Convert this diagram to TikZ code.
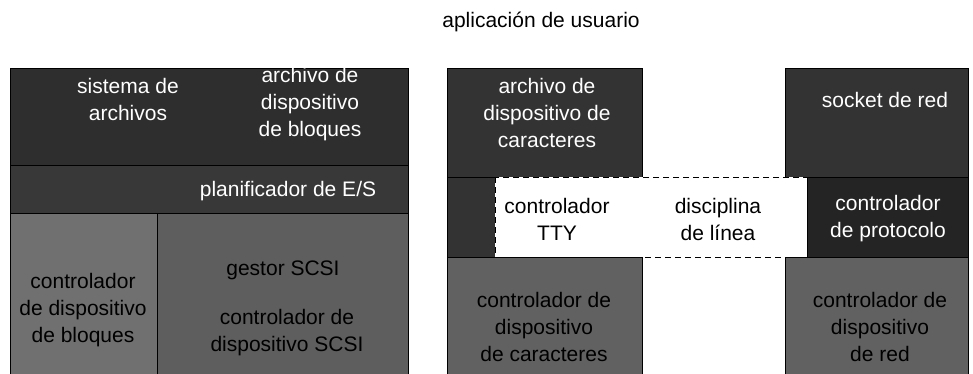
\documentclass[tikz,border=0pt]{standalone}
\usepackage{fontspec}
\setmainfont{Liberation Sans}
\begin{document}
\begin{tikzpicture}[x=1pt,y=-1pt,
  lbl/.style={font=\fontsize{21}{27}\selectfont, align=center, inner sep=0pt},
  lighttxt/.style={lbl, text=white},
  darktxt/.style={lbl, text=black},
  region/.style={draw=black, line width=0.8pt},
  ttybox/.style={draw=black, fill=white, dashed, line width=0.9pt, dash pattern=on 6pt off 4pt}]
\useasboundingbox (0,0) rectangle (973,374);
% left column
\filldraw[region, fill=black!82] (10,68) rectangle (408,165);
\filldraw[region, fill=black!78] (10,165) rectangle (408,213);
\filldraw[region, fill=black!56] (10,213) rectangle (157,374);
\filldraw[region, fill=black!63] (157,213) rectangle (408,374);
% middle column
\filldraw[region, fill=black!80] (447,68) rectangle (642,177);
\filldraw[region, fill=black!80] (447,177) rectangle (495,257);
\filldraw[region, fill=black!62] (447,257) rectangle (642,374);
% right column
\filldraw[region, fill=black!80] (785,68) rectangle (968,177);
\filldraw[region, fill=black!62] (785,257) rectangle (968,374);
% tty / line discipline box
\path[ttybox] (495,177) rectangle (807,257);
\filldraw[region, fill=black!86] (807,177) rectangle (968,257);
% texts
\node[darktxt] (app) at (541,22) {aplicación de usuario};
\node[lighttxt] (sa) at (128,99) {sistema de\\archivos};
\node[lighttxt] (adb) at (310,104) {archivo de\\dispositivo\\de bloques};
\node[lighttxt] (plan) at (288,191) {planificador de E/S};
\node[darktxt] (cdb) at (83,310) {controlador\\de dispositivo\\de bloques};
\node[darktxt] (gscsi) at (283,270) {gestor SCSI};
\node[darktxt] (cscsi) at (287,333) {controlador de\\dispositivo SCSI};
\node[lighttxt] (adc) at (547,113) {archivo de\\dispositivo de\\caracteres};
\node[darktxt] (ctty) at (557,219) {controlador\\TTY};
\node[darktxt] (dl) at (718,219) {disciplina\\de línea};
\node[darktxt] (cdc) at (544,327) {controlador de\\dispositivo\\de caracteres};
\node[lighttxt] (sock) at (885,100) {socket de red};
\node[lighttxt] (cp) at (888,219) {controlador\\de protocolo};
\node[darktxt] (cdr) at (880,327) {controlador de\\dispositivo\\de red};
\end{tikzpicture}
\end{document}
